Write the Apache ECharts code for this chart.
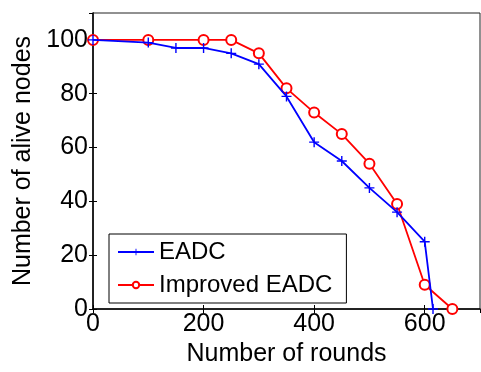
<!DOCTYPE html>
<html>
<head>
<meta charset="utf-8">
<script src="https://cdn.jsdelivr.net/npm/echarts@6/dist/echarts.min.js"></script>
<style>
  html, body { margin: 0; padding: 0; background: #fff; }
  #chart { width: 481px; height: 372px; }
</style>
</head>
<body>
<div id="chart"></div>
<script>
// values
var roundsEADC = [0, 100, 150, 200, 250, 300, 350, 400, 450, 500, 550, 600, 615];
var aliveEADC  = [100, 99, 97, 97, 95, 91, 79, 62, 55, 45, 36, 25, 0];
var roundsImproved = [0, 100, 200, 250, 300, 350, 400, 450, 500, 550, 600, 650];
var aliveImproved  = [100, 100, 100, 100, 95, 82, 73, 65, 54, 39, 9, 0];
var seriesNames = ['EADC', 'Improved EADC'];

function pairs(xs, ys) {
	var out = [];
	for (var i = 0; i < xs.length; i++) out.push([xs[i], ys[i]]);
	return out;
}

var font = "'Liberation Sans', Arial, sans-serif";
var plus = 'path://M0,4.3H10V5.7H0Z M4.3,0H5.7V10H4.3Z';

var myChart = echarts.init(document.getElementById('chart'));

var option = {
	animation: false,
	backgroundColor: '#fff',
	textStyle: { fontFamily: font, color: '#000' },
	grid: { left: 93, right: 1, top: 13, bottom: 59, show: true, borderColor: '#222', borderWidth: 1 },
	legend: {
		orient: 'vertical',
		left: 109,
		top: 234,
		data: seriesNames,
		itemWidth: 36,
		itemHeight: 8,
		itemGap: 9,
		padding: [6, 14, 6, 8],
		borderColor: '#000',
		borderWidth: 1,
		borderRadius: 0,
		backgroundColor: '#fff',
		textStyle: { fontSize: 24, fontFamily: font, color: '#000' }
	},
	xAxis: [{
		type: 'value',
		min: 0, max: 700, interval: 200,
		name: 'Number of rounds',
		nameLocation: 'middle',
		nameGap: 33,
		nameTextStyle: { fontSize: 25, fontFamily: font, color: '#000' },
		axisLine: { show: true, onZero: false, lineStyle: { color: '#000', width: 1.5 } },
		axisTick: { show: true, inside: true, length: 4, lineStyle: { color: '#000' } },
		axisLabel: { fontSize: 25, fontFamily: font, color: '#000', margin: 3, showMaxLabel: false },
		splitLine: { show: false }
	}, {
		type: 'value',
		position: 'top',
		min: 0, max: 700, interval: 200,
		axisLine: { show: true, lineStyle: { color: '#222', width: 1 } },
		axisTick: { show: true, inside: true, length: 4, lineStyle: { color: '#000' } },
		axisLabel: { show: false },
		splitLine: { show: false }
	}],
	yAxis: [{
		type: 'value',
		min: 0, max: 110, interval: 20,
		name: 'Number of alive nodes',
		nameLocation: 'middle',
		nameGap: 55,
		nameTextStyle: { fontSize: 25, fontFamily: font, color: '#000' },
		axisLine: { show: true, onZero: false, lineStyle: { color: '#000', width: 1.5 } },
		axisTick: { show: true, inside: true, length: 4, lineStyle: { color: '#000' } },
		axisLabel: { fontSize: 25, fontFamily: font, color: '#000', margin: 5, showMaxLabel: false },
		splitLine: { show: false }
	}, {
		type: 'value',
		position: 'right',
		min: 0, max: 110, interval: 20,
		axisLine: { show: true, lineStyle: { color: '#222', width: 1 } },
		axisTick: { show: true, inside: true, length: 4, lineStyle: { color: '#000' } },
		axisLabel: { show: false },
		splitLine: { show: false }
	}],
	series: [{
		name: seriesNames[1],
		type: 'line',
		data: pairs(roundsImproved, aliveImproved),
		symbol: 'emptyCircle',
		symbolSize: 10,
		color: '#ff0000',
		lineStyle: { color: '#ff0000', width: 1.8 },
		itemStyle: { color: '#ff0000', borderColor: '#ff0000', borderWidth: 1.5 },
		clip: false,
		z: 2
	}, {
		name: seriesNames[0],
		type: 'line',
		data: pairs(roundsEADC, aliveEADC),
		symbol: plus,
		symbolSize: 10,
		color: '#0000ff',
		lineStyle: { color: '#0000ff', width: 1.8 },
		itemStyle: { color: '#0000ff' },
		clip: false,
		z: 3
	}]
};

myChart.setOption(option);
</script>
</body>
</html>
